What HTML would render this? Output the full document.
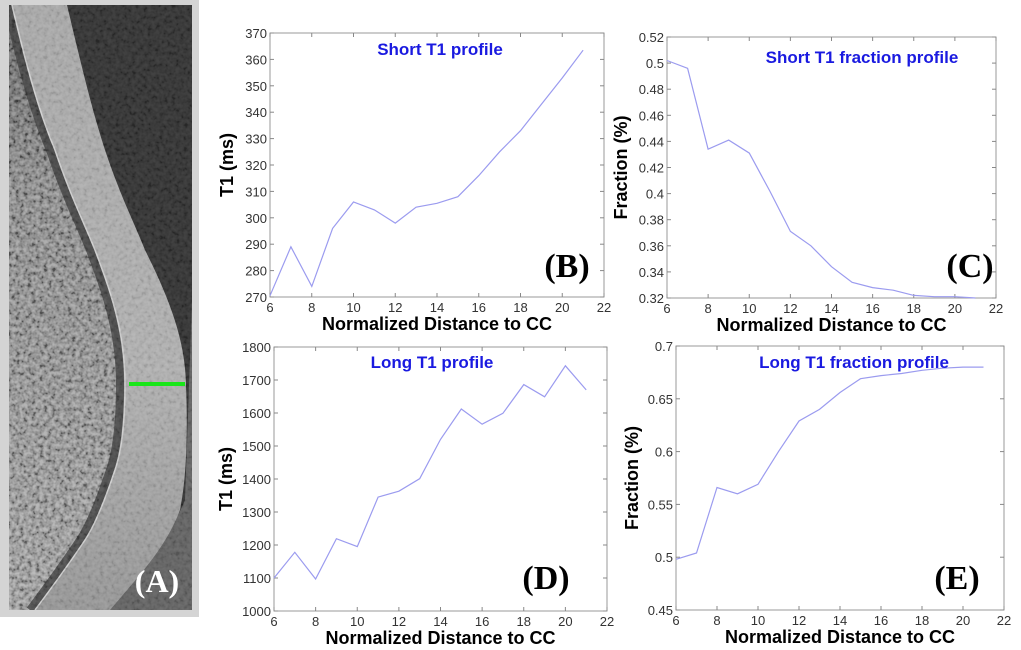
<!DOCTYPE html>
<html><head><meta charset="utf-8"><style>
body{margin:0;background:#fff;width:1021px;height:650px;overflow:hidden;font-family:"Liberation Sans",sans-serif}
svg{position:absolute;left:0;top:0}
</style></head><body>
<svg id="s" width="1021" height="650" xmlns="http://www.w3.org/2000/svg">
<defs>
<filter id="noise" x="0" y="0" width="200" height="620" filterUnits="userSpaceOnUse">
<feTurbulence type="fractalNoise" baseFrequency="0.25" numOctaves="2" seed="3" result="t"/>
<feColorMatrix in="t" type="matrix" values="0 0 0 2 -0.5  0 0 0 2 -0.5  0 0 0 2 -0.5  0 0 0 0 1"/>
</filter>
<linearGradient id="leftg" x1="0" y1="0" x2="0" y2="1">
<stop offset="0" stop-color="#3e3e3e"/><stop offset="0.3" stop-color="#7a7a7a"/><stop offset="1" stop-color="#959595"/>
</linearGradient>
<linearGradient id="bandg" x1="0" y1="0" x2="0" y2="1">
<stop offset="0" stop-color="#a8a8a8"/><stop offset="0.6" stop-color="#b0b0b0"/><stop offset="1" stop-color="#959595"/>
</linearGradient>
<clipPath id="imgclip"><rect x="9" y="5" width="183" height="605"/></clipPath>
<clipPath id="leftclip"><path d="M9,5 L12,5 C25,60 38,110 48,150 C60,195 78,225 88,250 C105,290 116,330 118,370 C120,400 118,420 112,450 C105,500 90,525 80,540 C60,570 45,590 30,610 L9,610Z"/></clipPath>
</defs>
<g>
<rect x="0" y="0" width="199" height="617" fill="#d4d4d4"/>
<g clip-path="url(#imgclip)">
<rect x="9" y="5" width="183" height="605" fill="#2c2c2c"/>
<path d="M192,300 L192,610 L90,610 C120,580 170,540 185,500 Z" fill="#5e5e5e"/>
<path d="M9,5 L12,5 C25,60 38,110 55,150 C70,195 85,225 95,250 C110,290 125,330 125,384 C125,420 122,450 115,470 C105,500 95,525 85,540 C65,570 50,590 35,610 L9,610Z" fill="url(#leftg)"/>
<g clip-path="url(#leftclip)" opacity="0.3"><rect x="9" y="5" width="183" height="605" filter="url(#noise)"/></g>
<path d="M12,5 L67,5 C80,60 92,110 105,150 C120,195 135,225 145,250 C170,300 185,340 186,384 C188,440 186,480 180,510 C165,550 135,580 110,610 L35,610 C50,590 65,570 85,540 C95,525 105,500 115,470 C122,450 125,420 125,384 C125,330 110,290 95,250 C85,225 70,195 55,150 C38,110 25,60 12,5Z" fill="url(#bandg)"/>
<path d="M12,5 C25,60 38,110 55,150 C70,195 85,225 95,250 C110,290 125,330 125,384 C125,420 122,450 115,470 C105,500 95,525 85,540 C65,570 50,590 35,610" fill="none" stroke="#3a3a3a" stroke-width="8" transform="translate(-5,0)" opacity="0.85"/>
<path d="M12,5 C25,60 38,110 55,150 C70,195 85,225 95,250 C110,290 125,330 125,384 C125,420 122,450 115,470 C105,500 95,525 85,540 C65,570 50,590 35,610" fill="none" stroke="#d0d0d0" stroke-width="1.5"/>
<g opacity="0.1"><rect x="9" y="5" width="183" height="605" filter="url(#noise)"/></g>
</g>
<line x1="129" y1="384" x2="185" y2="384" stroke="#19e619" stroke-width="4"/>
<text x="157" y="592" text-anchor="middle" font-family="Liberation Serif,serif" font-weight="bold" font-size="32" fill="#fff">(A)</text>
</g>
</svg>
<script>
const xTicks=[6,8,10,12,14,16,18,20,22];
const xs=[6,7,8,9,10,11,12,13,14,15,16,17,18,19,20,21];
const bVals=[270.5,289,274,296,306,303,298,304,305.5,308,316,325,333,343,353,363.5];
const bTicks=[270,280,290,300,310,320,330,340,350,360,370];
const cVals=[0.502,0.496,0.434,0.441,0.431,0.402,0.371,0.360,0.344,0.332,0.328,0.326,0.322,0.321,0.321,0.320];
const cTicks=[0.32,0.34,0.36,0.38,0.4,0.42,0.44,0.46,0.48,0.5,0.52];
const dVals=[1100,1178,1097,1219,1195,1345,1363,1401,1520,1612,1566,1599,1686,1649,1743,1670];
const dTicks=[1000,1100,1200,1300,1400,1500,1600,1700,1800];
const eVals=[0.498,0.504,0.566,0.560,0.569,0.600,0.629,0.640,0.656,0.669,0.672,0.674,0.677,0.679,0.680,0.680];
const eTicks=[0.45,0.5,0.55,0.6,0.65,0.7];
const NS="http://www.w3.org/2000/svg";
const svg=document.getElementById('s');
function mk(tag,attrs,parent,txt){const e=document.createElementNS(NS,tag);for(const k in attrs)e.setAttribute(k,attrs[k]);if(txt!==undefined)e.textContent=txt;parent.appendChild(e);return e;}
function panel(id,box,vals,yTicks,title,ylab,letter,tpos,lpos,ylx){
  const [x0,y0,x1,y1]=box;
  const g=mk('g',{},svg);
  
  
  const ymin=yTicks[0],ymax=yTicks[yTicks.length-1];
  const X=v=>x0+(v-6)/(22-6)*(x1-x0);
  const Y=v=>y1-(v-ymin)/(ymax-ymin)*(y1-y0);
  const frame=mk('rect',{x:x0,y:y0,width:x1-x0,height:y1-y0,fill:'none',stroke:'#999','stroke-width':1},g);
  
  
  xTicks.forEach(t=>{const x=X(t);
    mk('line',{x1:x,y1:y1,x2:x,y2:y1-4,stroke:'#888'},g);
    mk('line',{x1:x,y1:y0,x2:x,y2:y0+4,stroke:'#888'},g);
    const l=mk('text',{x:x,y:y1+15,'text-anchor':'middle','font-size':13,fill:'#333'},g,String(t));
    
    });
  yTicks.forEach(t=>{const y=Y(t);
    mk('line',{x1:x0,y1:y,x2:x0+4,y2:y,stroke:'#888'},g);
    mk('line',{x1:x1,y1:y,x2:x1-4,y2:y,stroke:'#888'},g);
    const l=mk('text',{x:x0-3,y:y+5,'text-anchor':'end','font-size':13,fill:'#333'},g,String(t));
    
    });
  const pts=xs.map((x,i)=>X(x).toFixed(1)+','+Y(vals[i]).toFixed(1)).join(' ');
  const pl=mk('polyline',{points:pts,fill:'none',stroke:'#9b9bef','stroke-width':1.2},g);
  
  
  const tt=mk('text',{x:tpos[0],y:tpos[1],'text-anchor':'middle','font-size':17,'font-weight':'bold',fill:'#1a1ae0'},g,title);
  
  
  const xl=mk('text',{x:(x0+x1)/2,y:y1+33,'text-anchor':'middle','font-size':18,'font-weight':'bold',fill:'#000'},g,'Normalized Distance to CC');
  
  
  const yc=(y0+y1)/2;
  const yl=mk('text',{x:ylx,y:yc,'text-anchor':'middle','font-size':18,'font-weight':'bold',fill:'#000',transform:`rotate(-90 ${ylx} ${yc})`},g,ylab);
  
  
  const lt=mk('text',{x:lpos[0],y:lpos[1],'text-anchor':'middle','font-size':34,'font-weight':'bold','font-family':'Liberation Serif,serif',fill:'#000'},g,letter);
  
  
}
panel('panel-b-short-t1',[270,33,604,297],bVals,bTicks,'Short T1 profile','T1  (ms)','(B)',[440,55],[567,277],233);
panel('panel-c-short-fraction',[667,37,996,298],cVals,cTicks,'Short T1 fraction profile','Fraction (%)','(C)',[862,63],[970,277],627);
panel('panel-d-long-t1',[274,347,607,611],dVals,dTicks,'Long T1 profile','T1  (ms)','(D)',[432,368],[546,589],232);
panel('panel-e-long-fraction',[676,346,1004,610],eVals,eTicks,'Long T1 fraction profile','Fraction (%)','(E)',[854,368],[957,589],638);
</script>
</body></html>
